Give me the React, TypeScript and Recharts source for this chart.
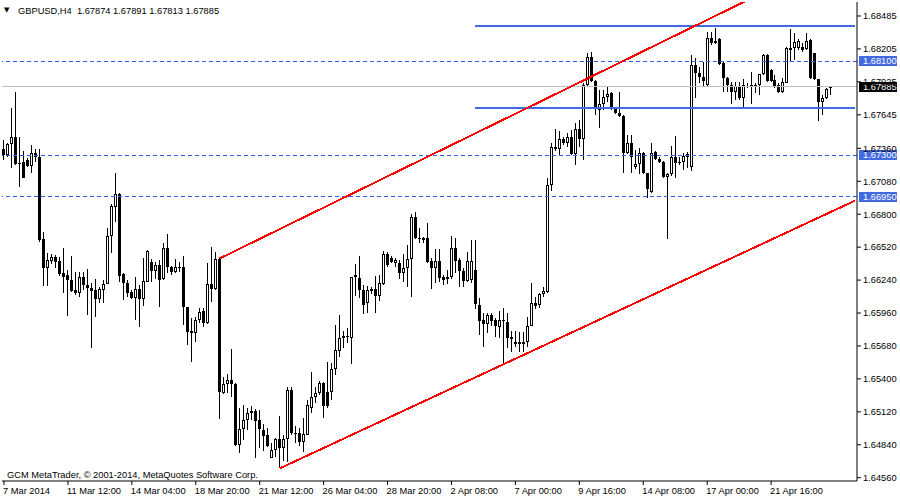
import React from 'react'
import { ComposedChart, Bar, XAxis, YAxis, ReferenceLine } from 'recharts'

const FONT = '"Liberation Sans", Arial, sans-serif'

// GBPUSD H4 candles (oldest first)
const opens = [
  1.67355, 1.67304, 1.67397, 1.67457, 1.67236, 1.67244, 1.67261, 1.67210, 1.67321, 1.67287,
  1.66590, 1.66343, 1.66403, 1.66437, 1.66403, 1.66301, 1.66284, 1.66241, 1.66156, 1.66131,
  1.66267, 1.66199, 1.66173, 1.66156, 1.66080, 1.66156, 1.66207, 1.66615, 1.66862, 1.66972,
  1.66292, 1.66216, 1.66139, 1.66088, 1.66165, 1.66080, 1.66224, 1.66394, 1.66318, 1.66369,
  1.66250, 1.66513, 1.66352, 1.66309, 1.66352, 1.66352, 1.66012, 1.65808, 1.65791, 1.65901,
  1.65978, 1.65876, 1.66207, 1.66165, 1.66420, 1.65281, 1.65357, 1.65391, 1.65357, 1.64838,
  1.64975, 1.65051, 1.65111, 1.65128, 1.65051, 1.64966, 1.64923, 1.64728, 1.64796, 1.64890,
  1.64813, 1.64890, 1.65306, 1.64940, 1.64940, 1.64864, 1.64923, 1.65153, 1.65247, 1.65281,
  1.65366, 1.65289, 1.65289, 1.65485, 1.65637, 1.65748, 1.65757, 1.65748, 1.66267, 1.66258,
  1.66156, 1.66046, 1.66148, 1.66165, 1.66105, 1.66207, 1.66462, 1.66428, 1.66386, 1.66386,
  1.66301, 1.66343, 1.66420, 1.66777, 1.66598, 1.66598, 1.66598, 1.66403, 1.66343, 1.66403,
  1.66267, 1.66250, 1.66267, 1.66513, 1.66411, 1.66318, 1.66233, 1.66241, 1.66326, 1.66029,
  1.65901, 1.65867, 1.65944, 1.65901, 1.65842, 1.65901, 1.65884, 1.65757, 1.65697, 1.65714,
  1.65697, 1.65714, 1.65850, 1.66046, 1.66029, 1.66122, 1.66139, 1.67049, 1.67372, 1.67355,
  1.67440, 1.67406, 1.67457, 1.67312, 1.67525, 1.67440, 1.67899, 1.68137, 1.67933, 1.67686,
  1.67737, 1.67797, 1.67831, 1.67703, 1.67661, 1.67635, 1.67321, 1.67406, 1.67202, 1.67227,
  1.67321, 1.67151, 1.66989, 1.67329, 1.67270, 1.67244, 1.67117, 1.67142, 1.67287, 1.67236,
  1.67244, 1.67287, 1.67202, 1.68069, 1.68001, 1.67967, 1.67899, 1.68298, 1.68256, 1.68290,
  1.68086, 1.67958, 1.67899, 1.67839, 1.67882, 1.67788, 1.67890, 1.67882, 1.67899, 1.67899,
  1.67992, 1.68154, 1.68026, 1.67941, 1.67899, 1.67839, 1.67916, 1.68213, 1.68213, 1.68213,
  1.68222, 1.68205, 1.68281, 1.68171, 1.67950, 1.67754, 1.67788, 1.67874,
]

const highs = [
  1.67431, 1.67406, 1.67703, 1.67839, 1.67457, 1.67338, 1.67278, 1.67389, 1.67355, 1.67355,
  1.66649, 1.66471, 1.66462, 1.66454, 1.66437, 1.66513, 1.66326, 1.66445, 1.66309, 1.66309,
  1.66309, 1.66335, 1.66216, 1.66250, 1.66182, 1.66241, 1.66683, 1.66887, 1.67151, 1.66981,
  1.66301, 1.66241, 1.66156, 1.66267, 1.66199, 1.66428, 1.66496, 1.66420, 1.66394, 1.66411,
  1.66556, 1.66632, 1.66360, 1.66420, 1.66394, 1.66445, 1.66012, 1.65918, 1.65927, 1.66003,
  1.66003, 1.66386, 1.66522, 1.66479, 1.66428, 1.65417, 1.65442, 1.65654, 1.65366, 1.65153,
  1.65179, 1.65153, 1.65170, 1.65145, 1.65136, 1.65017, 1.64983, 1.64856, 1.64898, 1.65085,
  1.64923, 1.65332, 1.65332, 1.65000, 1.64983, 1.65068, 1.65221, 1.65459, 1.65332, 1.65383,
  1.65374, 1.65544, 1.65536, 1.65859, 1.65944, 1.65808, 1.65833, 1.66267, 1.66377, 1.66445,
  1.66199, 1.66190, 1.66182, 1.66275, 1.66284, 1.66488, 1.66479, 1.66445, 1.66428, 1.66411,
  1.66462, 1.66539, 1.66802, 1.66819, 1.66683, 1.66607, 1.66726, 1.66428, 1.66505, 1.66505,
  1.66284, 1.66326, 1.66615, 1.66598, 1.66428, 1.66343, 1.66479, 1.66581, 1.66581, 1.66088,
  1.65961, 1.65961, 1.65961, 1.65918, 1.65978, 1.66003, 1.65961, 1.65808, 1.65808, 1.65799,
  1.65799, 1.65927, 1.66216, 1.66097, 1.66131, 1.66182, 1.67108, 1.67406, 1.67525, 1.67508,
  1.67457, 1.67491, 1.67516, 1.67576, 1.67601, 1.67916, 1.68171, 1.68179, 1.67941, 1.67856,
  1.67856, 1.67882, 1.67839, 1.67712, 1.67839, 1.67644, 1.67474, 1.67474, 1.67346, 1.67363,
  1.67329, 1.67151, 1.67406, 1.67338, 1.67287, 1.67253, 1.67151, 1.67380, 1.67465, 1.67287,
  1.67321, 1.67329, 1.68154, 1.68128, 1.68052, 1.68094, 1.68349, 1.68349, 1.68383, 1.68298,
  1.68094, 1.67967, 1.67924, 1.67924, 1.67924, 1.67950, 1.67916, 1.68009, 1.67916, 1.67992,
  1.68162, 1.68162, 1.68035, 1.67984, 1.67916, 1.67958, 1.68222, 1.68375, 1.68341, 1.68290,
  1.68256, 1.68341, 1.68290, 1.68171, 1.67950, 1.67814, 1.67873, 1.67891,
]

const lows = [
  1.67261, 1.67287, 1.67193, 1.67219, 1.67032, 1.67108, 1.67202, 1.67151, 1.67244, 1.66564,
  1.66190, 1.66190, 1.66377, 1.66343, 1.66275, 1.66131, 1.65935, 1.66139, 1.66114, 1.66097,
  1.66156, 1.65944, 1.65663, 1.65927, 1.66046, 1.66046, 1.66207, 1.66471, 1.66734, 1.66224,
  1.66071, 1.66097, 1.66080, 1.65901, 1.65842, 1.66020, 1.66224, 1.66224, 1.66250, 1.66012,
  1.66241, 1.66301, 1.66284, 1.66301, 1.66309, 1.65859, 1.65689, 1.65544, 1.65714, 1.65876,
  1.65842, 1.65867, 1.66054, 1.66156, 1.65060, 1.65272, 1.65281, 1.65247, 1.64830, 1.64770,
  1.64881, 1.64966, 1.65051, 1.64728, 1.64813, 1.64788, 1.64821, 1.64728, 1.64736, 1.64643,
  1.64703, 1.64694, 1.64923, 1.64856, 1.64830, 1.64779, 1.64923, 1.65111, 1.65196, 1.65264,
  1.65068, 1.65153, 1.65221, 1.65434, 1.65587, 1.65663, 1.65706, 1.65527, 1.66105, 1.66088,
  1.65952, 1.65961, 1.66122, 1.65961, 1.66063, 1.66199, 1.66352, 1.66386, 1.66352, 1.66250,
  1.66224, 1.66182, 1.66097, 1.66590, 1.66556, 1.66556, 1.66386, 1.66165, 1.66216, 1.66224,
  1.66199, 1.66207, 1.66250, 1.66301, 1.66182, 1.66182, 1.66224, 1.66216, 1.65995, 1.65774,
  1.65672, 1.65791, 1.65850, 1.65757, 1.65748, 1.65536, 1.65663, 1.65629, 1.65672, 1.65629,
  1.65629, 1.65672, 1.65850, 1.65995, 1.66003, 1.66097, 1.66131, 1.66998, 1.67338, 1.67304,
  1.67389, 1.67372, 1.67304, 1.67219, 1.67372, 1.67261, 1.67890, 1.67924, 1.67644, 1.67533,
  1.67686, 1.67754, 1.67686, 1.67652, 1.67627, 1.67151, 1.67312, 1.67151, 1.67185, 1.67142,
  1.67142, 1.66938, 1.66981, 1.67261, 1.67236, 1.67108, 1.66590, 1.67125, 1.67108, 1.67219,
  1.67176, 1.67193, 1.67168, 1.67788, 1.67916, 1.67890, 1.67882, 1.68239, 1.68247, 1.68069,
  1.67839, 1.67839, 1.67737, 1.67771, 1.67771, 1.67712, 1.67873, 1.67737, 1.67831, 1.67814,
  1.67984, 1.67924, 1.67924, 1.67873, 1.67831, 1.67831, 1.67916, 1.68094, 1.68111, 1.68196,
  1.68179, 1.68196, 1.67950, 1.67941, 1.67593, 1.67644, 1.67780, 1.67813,
]

const closes = [
  1.67304, 1.67397, 1.67457, 1.67227, 1.67227, 1.67108, 1.67210, 1.67321, 1.67287, 1.66581,
  1.66343, 1.66411, 1.66437, 1.66394, 1.66292, 1.66267, 1.66241, 1.66148, 1.66131, 1.66267,
  1.66199, 1.66173, 1.66148, 1.66080, 1.66165, 1.66207, 1.66615, 1.66870, 1.66972, 1.66275,
  1.66216, 1.66131, 1.66088, 1.66165, 1.66080, 1.66233, 1.66488, 1.66318, 1.66369, 1.66241,
  1.66513, 1.66352, 1.66309, 1.66352, 1.66343, 1.66012, 1.65799, 1.65791, 1.65901, 1.65969,
  1.65876, 1.66207, 1.66165, 1.66420, 1.65289, 1.65357, 1.65391, 1.65357, 1.64838, 1.64975,
  1.65051, 1.65111, 1.65128, 1.65043, 1.64975, 1.64915, 1.64830, 1.64796, 1.64890, 1.64813,
  1.64890, 1.65306, 1.64940, 1.64932, 1.64864, 1.64932, 1.65179, 1.65247, 1.65281, 1.65366,
  1.65170, 1.65170, 1.65485, 1.65646, 1.65748, 1.65765, 1.65765, 1.66267, 1.66284, 1.66156,
  1.66029, 1.66156, 1.66165, 1.66105, 1.66216, 1.66462, 1.66369, 1.66394, 1.66411, 1.66301,
  1.66343, 1.66420, 1.66777, 1.66598, 1.66590, 1.66581, 1.66394, 1.66343, 1.66403, 1.66258,
  1.66241, 1.66267, 1.66513, 1.66403, 1.66318, 1.66233, 1.66403, 1.66403, 1.66037, 1.65893,
  1.65867, 1.65944, 1.65893, 1.65850, 1.65901, 1.65893, 1.65748, 1.65740, 1.65714, 1.65697,
  1.65714, 1.65850, 1.66046, 1.66020, 1.66122, 1.66148, 1.67049, 1.67372, 1.67355, 1.67440,
  1.67406, 1.67457, 1.67312, 1.67525, 1.67440, 1.67899, 1.68137, 1.67933, 1.67703, 1.67737,
  1.67797, 1.67822, 1.67703, 1.67661, 1.67635, 1.67321, 1.67406, 1.67287, 1.67227, 1.67321,
  1.67151, 1.67014, 1.67321, 1.67270, 1.67244, 1.67117, 1.67142, 1.67287, 1.67236, 1.67244,
  1.67295, 1.67312, 1.68069, 1.68001, 1.67967, 1.67933, 1.68298, 1.68256, 1.68273, 1.68077,
  1.67958, 1.67899, 1.67839, 1.67890, 1.67788, 1.67899, 1.67882, 1.67899, 1.67882, 1.67992,
  1.68154, 1.67933, 1.67933, 1.67890, 1.67839, 1.67924, 1.68213, 1.68196, 1.68264, 1.68273,
  1.68196, 1.68273, 1.67958, 1.67950, 1.67754, 1.67788, 1.67865, 1.67885,
]

// every 16th bar gets a time label
const xTickIndex = [0, 16, 32, 48, 64, 80, 96, 112, 128, 144, 160, 176, 192]
const xTickLabels = [
  '7 Mar 2014', '11 Mar 12:00', '14 Mar 04:00', '18 Mar 20:00', '21 Mar 12:00',
  '26 Mar 04:00', '28 Mar 20:00', '2 Apr 08:00', '7 Apr 00:00', '9 Apr 16:00',
  '14 Apr 08:00', '17 Apr 00:00', '21 Apr 16:00',
]

const yTicks = [
  1.68485, 1.68205, 1.67925, 1.67645, 1.6736, 1.6708, 1.668, 1.6652,
  1.6624, 1.6596, 1.6568, 1.654, 1.6512, 1.6484, 1.6456,
]

const dashedLevels = [1.681, 1.673, 1.6695]
const boxLevels = [1.684, 1.677]
const bid = 1.67885

// trend lines: [bar, price] pairs
const upperTrend = [[54, 1.66424], [186, 1.68618]]
const lowerTrend = [[69, 1.64639], [213, 1.66915]]

const SLOTS = 214 // chart shift leaves empty space on the right
const BOX_START = 118

const data = Array.from({ length: SLOTS }, (_, i) =>
  i < opens.length
    ? { i, o: opens[i], h: highs[i], l: lows[i], c: closes[i] }
    : { i }
)

const BLUE = '#4169e1'
const DASH_BLUE = '#2f5ef0'

function Candle(props: any) {
  const { x, y, width, height, payload } = props
  if (!payload || payload.o == null) return null
  const top = Math.min(y, y + height)
  const h = Math.abs(height)
  const range = payload.h - payload.l
  const py = (v: number) => (range > 0 ? top + ((payload.h - v) / range) * h : top)
  const cx = Math.floor(x + width / 2) + 0.5
  const bTop = Math.round(py(Math.max(payload.o, payload.c)))
  const bBot = Math.round(py(Math.min(payload.o, payload.c)))
  const up = payload.c >= payload.o
  let body
  if (bBot - bTop < 2) {
    body = <line x1={cx - 1.5} x2={cx + 1.5} y1={bTop + 0.5} y2={bTop + 0.5} stroke="#000" />
  } else if (up) {
    body = (
      <rect x={cx - 1} y={bTop + 0.5} width={2} height={bBot - bTop - 1} fill="#fff" stroke="#000" />
    )
  } else {
    body = <rect x={cx - 1.5} y={bTop} width={3} height={bBot - bTop} fill="#000" />
  }
  return (
    <g>
      <line x1={cx} x2={cx} y1={Math.round(top)} y2={Math.round(top + h)} stroke="#000" />
      {body}
    </g>
  )
}

function XTick(props: any) {
  const { x, y, payload } = props
  const idx = xTickIndex.indexOf(payload.value)
  return (
    <text x={x - 1} y={y} dy="0.71em" textAnchor="start" fontSize={9.3} fontFamily={FONT} fill="#000">
      {xTickLabels[idx]}
    </text>
  )
}

function PriceTag(props: any) {
  const { viewBox, text, bg } = props
  if (!viewBox) return null
  const x = viewBox.x + viewBox.width + 2
  const y = Math.round(viewBox.y)
  return (
    <g>
      <rect x={x} y={y - 5} width={38} height={10} fill={bg} />
      <text x={x + 4} y={y} dy="0.35em" fill="#fff" fontSize={9.3} fontFamily={FONT}>
        {text}
      </text>
    </g>
  )
}

export default function App() {
  return (
    <div style={{ position: 'absolute', left: 0, top: 0, width: 900, height: 500, background: '#fff' }}>
      <ComposedChart
        width={900}
        height={500}
        data={data}
        margin={{ top: 2, right: 0, bottom: 0, left: 2 }}
        barCategoryGap="10%"
      >
        <XAxis
          dataKey="i"
          type="category"
          ticks={xTickIndex}
          interval={0}
          height={19}
          tickSize={4}
          tickLine={{ stroke: '#000' }}
          axisLine={{ stroke: '#000' }}
          tick={<XTick />}
        />
        <XAxis xAxisId="frame" dataKey="i" orientation="top" height={0} tick={false} tickLine={false} axisLine={{ stroke: '#000' }} />
        <YAxis
          orientation="right"
          type="number"
          domain={[1.64532, 1.68604]}
          allowDataOverflow
          ticks={yTicks}
          interval={0}
          width={43}
          tickSize={4}
          tickMargin={2}
          tickLine={{ stroke: '#000' }}
          axisLine={{ stroke: '#000' }}
          tickFormatter={(v: number) => v.toFixed(5)}
          tick={{ fontSize: 9.3, fontFamily: FONT, fill: '#000' }}
        />
        <YAxis yAxisId="frame" orientation="left" width={0} domain={[0, 1]} tick={false} tickLine={false} axisLine={{ stroke: '#000' }} />
        <Bar
          dataKey={(d: any) => (d.o == null ? null : [d.l, d.h])}
          shape={<Candle />}
          isAnimationActive={false}
        />
        <ReferenceLine
          y={bid}
          stroke="#c0c0c0"
          shapeRendering="crispEdges"
          label={<PriceTag text={bid.toFixed(5)} bg="#000" />}
        />
        {dashedLevels.map((lv) => (
          <ReferenceLine
            key={lv}
            y={lv}
            stroke={DASH_BLUE}
            strokeDasharray="4 3"
            shapeRendering="crispEdges"
            label={<PriceTag text={lv.toFixed(5)} bg={BLUE} />}
          />
        ))}
        {boxLevels.map((lv) => (
          <ReferenceLine
            key={lv}
            segment={[{ x: BOX_START, y: lv }, { x: SLOTS - 1, y: lv }]}
            stroke={BLUE}
            strokeWidth={2}
            shapeRendering="crispEdges"
          />
        ))}
        {[upperTrend, lowerTrend].map((t, n) => (
          <ReferenceLine
            key={n}
            segment={[{ x: t[0][0], y: t[0][1] }, { x: t[1][0], y: t[1][1] }]}
            stroke="#ff0000"
            strokeWidth={2}
            ifOverflow="hidden"
            shapeRendering="crispEdges"
          />
        ))}
      </ComposedChart>
      <div style={{ position: 'absolute', left: 4, top: 5, fontSize: 7, lineHeight: '10px', fontFamily: '"DejaVu Sans", sans-serif' }}>
        ▼
      </div>
      <div style={{ position: 'absolute', left: 18, top: 6, fontSize: 9.3, lineHeight: '10px', fontFamily: FONT, whiteSpace: 'pre' }}>
        {'GBPUSD,H4  1.67874 1.67891 1.67813 1.67885'}
      </div>
      <div style={{ position: 'absolute', left: 7, top: 470, fontSize: 9.3, lineHeight: '10px', fontFamily: FONT, whiteSpace: 'pre' }}>
        GCM MetaTrader, © 2001-2014, MetaQuotes Software Corp.
      </div>
    </div>
  )
}
